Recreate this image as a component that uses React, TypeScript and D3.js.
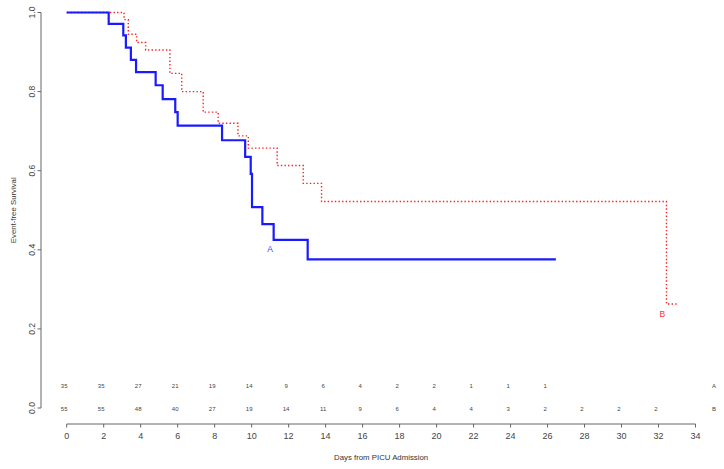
import React from "react";
import * as d3 from "d3";

const timesA = [0, 2.27, 3.06, 3.2, 3.47, 3.75, 4.81, 5.19, 5.87, 6.0, 8.4, 9.65, 9.95, 10.02, 10.58, 11.19, 13.03, 26.45];
const survA = [1.0, 0.971, 0.942, 0.911, 0.88, 0.849, 0.816, 0.781, 0.748, 0.714, 0.677, 0.635, 0.592, 0.508, 0.465, 0.425, 0.376, 0.376];

const timesB = [0, 3.1, 3.33, 3.78, 4.27, 5.58, 6.22, 7.38, 8.19, 9.26, 9.82, 11.38, 12.79, 13.78, 32.43, 33.0];
const survB = [1.0, 0.982, 0.945, 0.924, 0.905, 0.846, 0.8, 0.748, 0.72, 0.688, 0.657, 0.613, 0.568, 0.522, 0.263, 0.263];

const xTicks = [0, 2, 4, 6, 8, 10, 12, 14, 16, 18, 20, 22, 24, 26, 28, 30, 32, 34];
const yTicks = [0, 0.2, 0.4, 0.6, 0.8, 1.0];
const riskA = [35, 35, 27, 21, 19, 14, 9, 6, 4, 2, 2, 1, 1, 1];
const riskB = [55, 55, 48, 40, 27, 19, 14, 11, 9, 6, 4, 4, 3, 2, 2, 2, 2];
const groupNames = ["A", "B"];

const W = 724;
const H = 469;
const font = "'Liberation Sans', Arial, sans-serif";

export default function App() {
  const x = d3.scaleLinear().domain([0, 34]).range([66.7, 695.5]);
  const y = d3.scaleLinear().domain([0, 1]).range([408, 12.5]);
  const line = d3
    .line<[number, number]>()
    .x((d) => x(d[0]))
    .y((d) => y(d[1]))
    .curve(d3.curveStepAfter);
  const ptsA: [number, number][] = timesA.map((t, i) => [t, survA[i]]);
  const ptsB: [number, number][] = timesB.map((t, i) => [t, survB[i]]);
  const axisY = 424;
  const axisX = 41;
  const rowA = 388.3;
  const rowB = 410.6;
  return (
    <svg
      width={W}
      height={H}
      style={{ position: "absolute", left: 0, top: 0, background: "#fff" }}
      fontFamily={font}
    >
      <rect x={0} y={0} width={W} height={H} fill="#fff" />
      {/* Y axis */}
      <line x1={axisX} x2={axisX} y1={y(0)} y2={y(1)} stroke="#666" strokeWidth={1} />
      {yTicks.map((t) => (
        <g key={t}>
          <line x1={axisX - 3.5} x2={axisX} y1={y(t)} y2={y(t)} stroke="#666" />
          <text
            transform={`translate(${axisX - 6},${y(t)}) rotate(-90)`}
            textAnchor="middle"
            fontSize={8.5}
            fill="#444"
          >
            {t.toFixed(1)}
          </text>
        </g>
      ))}
      <text
        transform={`translate(15.5,${(y(0) + y(1)) / 2}) rotate(-90)`}
        textAnchor="middle"
        fontSize={7.8}
        fill="#333"
      >
        Event-free Survival
      </text>
      {/* X axis */}
      <line x1={x(0)} x2={x(34)} y1={axisY} y2={axisY} stroke="#666" />
      {xTicks.map((t) => (
        <g key={t}>
          <line x1={x(t)} x2={x(t)} y1={axisY} y2={axisY + 3.5} stroke="#666" />
          <text x={x(t)} y={axisY + 15} textAnchor="middle" fontSize={9} fill="#444">
            {t}
          </text>
        </g>
      ))}
      <text x={(x(0) + x(34)) / 2} y={459.5} textAnchor="middle" fontSize={7.8} fill="#333">
        Days from PICU Admission
      </text>
      {/* numbers at risk */}
      {riskA.map((v, i) => (
        <text key={"a" + i} x={x(i * 2) - 2.5} y={rowA} textAnchor="middle" fontSize={6} fill="#444">
          {v}
        </text>
      ))}
      {riskB.map((v, i) => (
        <text key={"b" + i} x={x(i * 2) - 2.5} y={rowB} textAnchor="middle" fontSize={6} fill="#444">
          {v}
        </text>
      ))}
      <text x={x(35)} y={rowA} textAnchor="middle" fontSize={6} fill="#444">
        {groupNames[0]}
      </text>
      <text x={x(35)} y={rowB} textAnchor="middle" fontSize={6} fill="#444">
        {groupNames[1]}
      </text>
      {/* curves */}
      <path
        d={line(ptsB) || ""}
        fill="none"
        stroke="#ff2020"
        strokeWidth={1.4}
        strokeDasharray="1.4,2.2"
      />
      <path d={line(ptsA) || ""} fill="none" stroke="#1a1aff" strokeWidth={2.2} />
      <text x={270} y={252.3} textAnchor="middle" fontSize={8.5} fill="#3a3aff">
        {groupNames[0]}
      </text>
      <text x={662.3} y={317} textAnchor="middle" fontSize={8.5} fill="#ff3030">
        {groupNames[1]}
      </text>
    </svg>
  );
}
